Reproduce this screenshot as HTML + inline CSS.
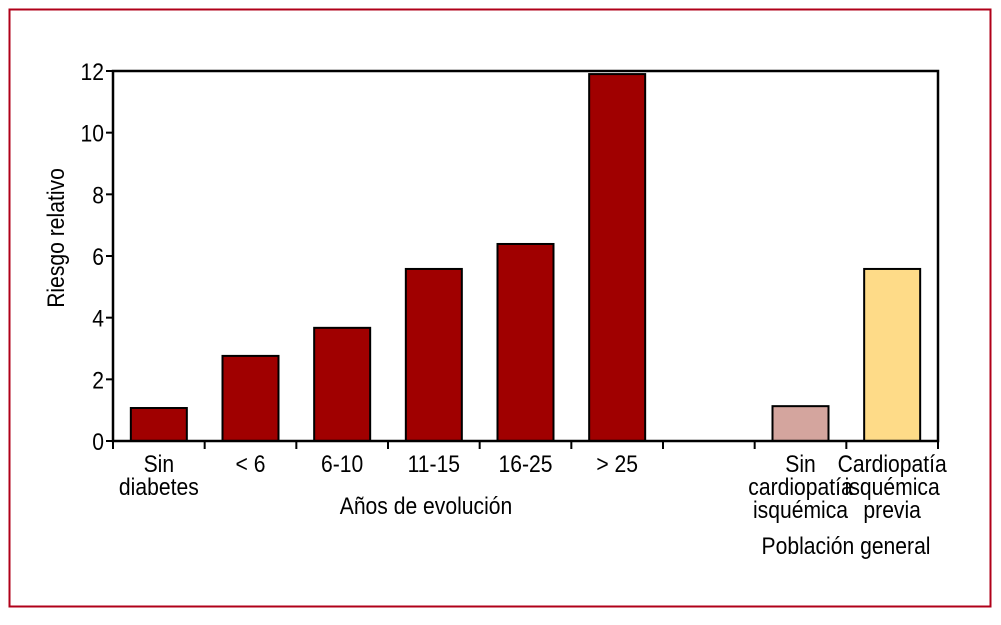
<!DOCTYPE html>
<html><head><meta charset="utf-8"><style>
body{margin:0;background:#fff}
svg text{font-family:"Liberation Sans",sans-serif;font-size:24px;fill:#000}
</style></head><body>
<svg width="1001" height="620">
<rect x="9.5" y="9.5" width="981" height="597" fill="none" stroke="#b0001a" stroke-width="2"/>
<g id="g"></g>
</svg>
<script>
const categories=[["Sin","diabetes"],["< 6"],["6-10"],["11-15"],["16-25"],["> 25"],[],["Sin","cardiopatía","isquémica"],["Cardiopatía","isquémica","previa"]];
const values=[1.07,2.76,3.67,5.58,6.39,11.9,null,1.13,5.58];
const colors=["#a00000","#a00000","#a00000","#a00000","#a00000","#a00000","none","#d4a59e","#fedb88"];
const yTicks=[0,2,4,6,8,10,12];
const NS="http://www.w3.org/2000/svg",g=document.getElementById('g');
const x0=113,x1=938,y0=441,yTop=71,yMax=12,n=categories.length,slot=(x1-x0)/n;
const y=v=>y0-(v/yMax)*(y0-yTop);
const xc=i=>x0+slot*(i+0.5);
const SX=0.88;
function el(t,a,txt){const e=document.createElementNS(NS,t);for(const k in a)e.setAttribute(k,a[k]);if(txt!=null)e.textContent=txt;g.appendChild(e);return e;}
function txt(x,yy,s,anchor,rot){return el('text',{x:0,y:0,'text-anchor':anchor,transform:`translate(${x},${yy})`+(rot?` rotate(${rot})`:'')+` scale(${SX},1)`},s);}
values.forEach((v,i)=>{if(v==null)return;
const r=el('rect',{x:xc(i)-28,y:y(v),width:56,height:y0-y(v),fill:colors[i],stroke:'#000','stroke-width':2});

});
let b=el('rect',{x:x0,y:yTop,width:x1-x0,height:y0-yTop,fill:'none',stroke:'#000','stroke-width':2.5});


yTicks.forEach(t=>{el('line',{x1:x0-7,x2:x0,y1:y(t),y2:y(t),stroke:'#000','stroke-width':2});
const tx=txt(x0-9,y(t)+9,t,'end');

});
for(let i=0;i<=n;i++)el('line',{x1:x0+slot*i,x2:x0+slot*i,y1:y0,y2:y0+8,stroke:'#000','stroke-width':2});
categories.forEach((c,i)=>c.forEach((s,j)=>{const t=txt(xc(i),472+j*23,s,'middle');

}));
let a=txt(426,514,'Años de evolución','middle');


let p=txt(846,554,'Población general','middle');


let yt=txt(64,238,'Riesgo relativo','middle',-90);


</script>
</body></html>
